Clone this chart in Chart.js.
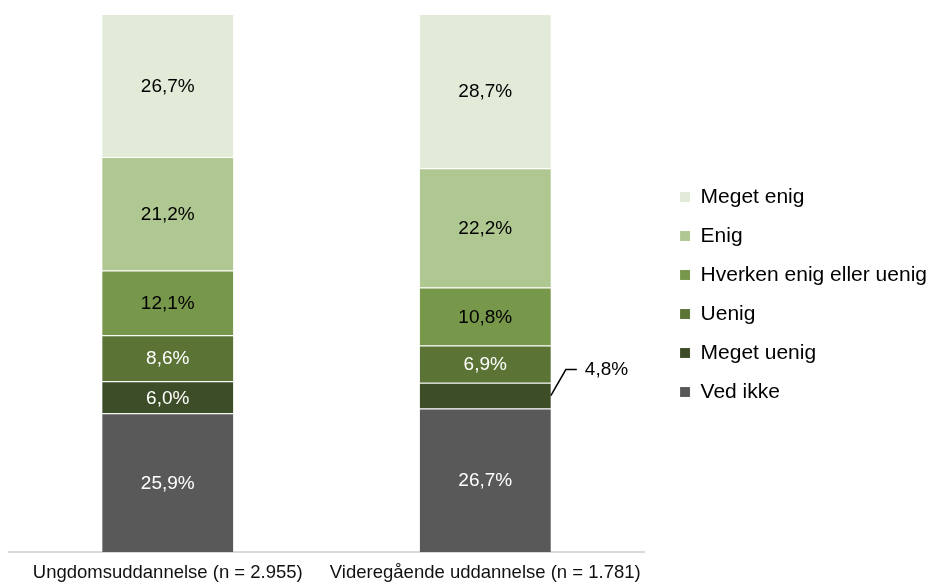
<!DOCTYPE html>
<html lang="da">
<head>
<meta charset="utf-8">
<title>Svarfordeling</title>
<script src="https://cdn.jsdelivr.net/npm/chart.js@4.4.1/dist/chart.umd.min.js"></script>
<style>
    html, body { margin: 0; padding: 0; background: #fff; }
    #wrap { width: 926px; height: 584px; }
</style>
</head>
<body>
<div id="wrap"><canvas id="chart" width="926" height="584"></canvas></div>
<script>
const categories = ["Ungdomsuddannelse (n = 2.955)", "Videregående uddannelse (n = 1.781)"];

// series from the bottom of the stack to the top
const seriesNames = ["Ved ikke", "Meget uenig", "Uenig", "Hverken enig eller uenig", "Enig", "Meget enig"];
const vedIkke = [25.9, 26.7];
const megetUenig = [6.0, 4.8];
const uenig = [8.6, 6.9];
const hverken = [12.1, 10.8];
const enig = [21.2, 22.2];
const megetEnig = [26.7, 28.7];

const seriesColors = ["#595959", "#3d4d28", "#5b7436", "#77974a", "#afc790", "#e2ebd8"];
const labelColors = ["#ffffff", "#ffffff", "#ffffff", "#000000", "#000000", "#000000"];

// labels drawn beside the bar with a leader line: [series index, category index]
const callouts = [[1, 1]];

const FONT = "'Liberation Sans', Arial, sans-serif";
Chart.defaults.font.family = FONT;
Chart.defaults.color = "#000";

const allSeries = [vedIkke, megetUenig, uenig, hverken, enig, megetEnig];

// 100% stacked, like the original: each column is scaled to its own total
const totals = categories.map((_, j) => allSeries.reduce((s, arr) => s + arr[j], 0));

const fmt = (v) => v.toFixed(1).replace(".", ",") + "%";

const datasets = allSeries.map((values, i) => ({
    label: seriesNames[i],
    data: values.map((v, j) => (v / totals[j]) * 100),
    raw: values,
    backgroundColor: seriesColors[i],
    borderColor: "rgba(255,255,255,0.35)",
    borderWidth: { top: 1, right: 0, bottom: 0, left: 0 },
    borderSkipped: false,
    barPercentage: 1,
    categoryPercentage: 0.413,
}));

const isCallout = (i, j) => callouts.some(([a, b]) => a === i && b === j);

const barLabels = {
    id: "barLabels",
    afterDatasetsDraw(chart) {
        const { ctx } = chart;
        ctx.save();
        ctx.font = `19px ${FONT}`;
        ctx.textBaseline = "middle";
        chart.data.datasets.forEach((ds, i) => {
            const meta = chart.getDatasetMeta(i);
            meta.data.forEach((bar, j) => {
                const { x, y, base, width } = bar.getProps(["x", "y", "base", "width"], true);
                const cy = (y + base) / 2;
                const text = fmt(ds.raw[j]);
                if (isCallout(i, j)) {
                    const x0 = x + width / 2;
                    const ty = cy - 26;
                    ctx.strokeStyle = "#000";
                    ctx.lineWidth = 1.5;
                    ctx.beginPath();
                    ctx.moveTo(x0, cy);
                    ctx.lineTo(x0 + 15, ty);
                    ctx.lineTo(x0 + 26, ty);
                    ctx.stroke();
                    ctx.fillStyle = "#000";
                    ctx.textAlign = "left";
                    ctx.fillText(text, x0 + 34, ty);
                } else {
                    ctx.fillStyle = labelColors[i];
                    ctx.textAlign = "center";
                    ctx.fillText(text, x, cy + 1);
                }
            });
        });
        ctx.restore();
    },
};

new Chart(document.getElementById("chart"), {
    type: "bar",
    data: { labels: categories, datasets },
    options: {
        responsive: false,
        animation: false,
        // legend adds 10px of its own on the right; pull it back to the edge
        layout: { padding: { left: 9, right: -11, top: 5, bottom: 0 } },
        scales: {
            x: {
                stacked: true,
                offset: true,
                grid: { display: false, drawTicks: false },
                border: { display: true, color: "#d9d9d9", width: 2 },
                ticks: {
                    font: { size: 18.5 },
                    color: "#111",
                    padding: 10,
                    maxRotation: 0,
                    minRotation: 0,
                    autoSkip: false,
                },
                afterFit: (s) => { s.height = 32; },
            },
            // empty band above the bars
            top: {
                type: "category",
                position: "top",
                grid: { display: false, drawTicks: false },
                border: { display: false },
                ticks: { display: false },
                afterFit: (s) => { s.height = 9; },
            },
            y: {
                stacked: true,
                min: 0,
                max: 100,
                position: "right",
                grid: { display: false, drawTicks: false },
                border: { display: false },
                ticks: { display: false },
                afterFit: (s) => { s.width = 18; },
            },
        },
        plugins: {
            tooltip: { enabled: false },
            legend: {
                position: "right",
                reverse: true,
                maxWidth: 320,
                labels: {
                    boxWidth: 10,
                    boxHeight: 10,
                    padding: 18,
                    color: "#000",
                    font: { size: 21 },
                },
            },
        },
    },
    plugins: [barLabels],
});
</script>
</body>
</html>
